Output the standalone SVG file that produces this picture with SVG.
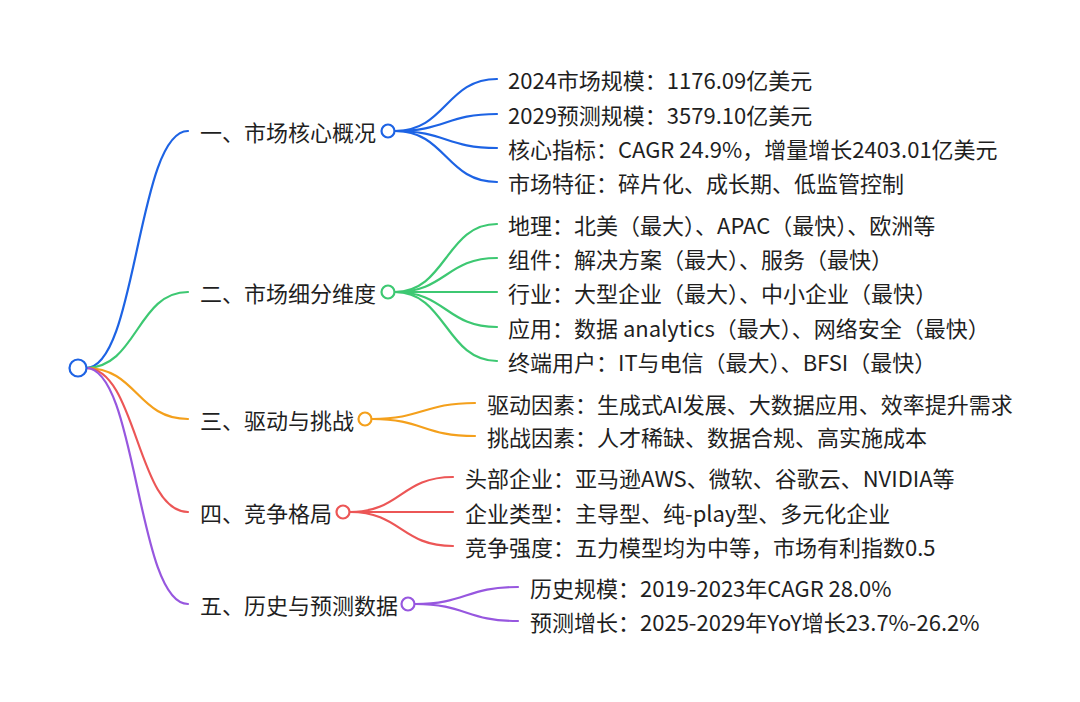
<svg xmlns="http://www.w3.org/2000/svg" width="1080" height="702" viewBox="0 0 1080 702">
<style>
text{font-family:"Noto Sans CJK SC","Noto Sans",sans-serif;font-size:22px;fill:#1f1f1f;dominant-baseline:central}
.c{fill:none;stroke-width:2.2;stroke-linecap:round}
.n{fill:#fff;stroke-width:2.2}
.b{stroke:#1d63e4}.g{stroke:#3dc872}.o{stroke:#f4a01c}.r{stroke:#ec5656}.p{stroke:#9757df}
</style>
<rect width="1080" height="702" fill="#fff"/>
<g id="connectors">
<path class="c b" d="M86,368 C137,368 137,131 188,131"/>
<path class="c g" d="M86,368 C137,368 137,292 188,292"/>
<path class="c o" d="M86,368 C137,368 137,419 188,419"/>
<path class="c r" d="M86,368 C137,368 137,512 188,512"/>
<path class="c p" d="M86,368 C137,368 137,604 188,604"/>
<path class="c b" d="M395,131 C446,131 446,79 497,79"/>
<path class="c b" d="M395,131 C446,131 446,114 497,114"/>
<path class="c b" d="M395,131 C446,131 446,148 497,148"/>
<path class="c b" d="M395,131 C446,131 446,182 497,182"/>
<path class="c g" d="M395,292 C446,292 446,224 497,224"/>
<path class="c g" d="M395,292 C446,292 446,258 497,258"/>
<path class="c g" d="M395,292 C446,292 446,292 497,292"/>
<path class="c g" d="M395,292 C446,292 446,327 497,327"/>
<path class="c g" d="M395,292 C446,292 446,361 497,361"/>
<path class="c o" d="M372,419 C423,419 423,403 475,403"/>
<path class="c o" d="M372,419 C423,419 423,436 475,436"/>
<path class="c r" d="M350,512 C401,512 401,477 453,477"/>
<path class="c r" d="M350,512 C401,512 401,512 453,512"/>
<path class="c r" d="M350,512 C401,512 401,546 453,546"/>
<path class="c p" d="M415,604 C466,604 466,587 518,587"/>
<path class="c p" d="M415,604 C466,604 466,621 518,621"/>
</g>
<g id="root"><circle class="n b" cx="78" cy="368" r="8.5" stroke-width="2.5"/></g>
<g id="n1"><text x="200" y="131">一、市场核心概况</text><circle class="n b" cx="388" cy="131" r="6.5"/></g>
<g id="n1a"><text x="508" y="79">2024市场规模：1176.09亿美元</text></g>
<g id="n1b"><text x="508" y="114">2029预测规模：3579.10亿美元</text></g>
<g id="n1c"><text x="508" y="148">核心指标：CAGR 24.9%，增量增长2403.01亿美元</text></g>
<g id="n1d"><text x="508" y="182">市场特征：碎片化、成长期、低监管控制</text></g>
<g id="n2"><text x="200" y="292">二、市场细分维度</text><circle class="n g" cx="388" cy="292" r="6.5"/></g>
<g id="n2a"><text x="508" y="224">地理：北美（最大）、APAC（最快）、欧洲等</text></g>
<g id="n2b"><text x="508" y="258">组件：解决方案（最大）、服务（最快）</text></g>
<g id="n2c"><text x="508" y="292">行业：大型企业（最大）、中小企业（最快）</text></g>
<g id="n2d"><text x="508" y="327">应用：数据 analytics（最大）、网络安全（最快）</text></g>
<g id="n2e"><text x="508" y="361">终端用户：IT与电信（最大）、BFSI（最快）</text></g>
<g id="n3"><text x="200" y="419">三、驱动与挑战</text><circle class="n o" cx="365" cy="419" r="6.5"/></g>
<g id="n3a"><text x="487" y="403">驱动因素：生成式AI发展、大数据应用、效率提升需求</text></g>
<g id="n3b"><text x="487" y="436">挑战因素：人才稀缺、数据合规、高实施成本</text></g>
<g id="n4"><text x="200" y="512">四、竞争格局</text><circle class="n r" cx="343" cy="512" r="6.5"/></g>
<g id="n4a"><text x="465" y="477">头部企业：亚马逊AWS、微软、谷歌云、NVIDIA等</text></g>
<g id="n4b"><text x="465" y="512">企业类型：主导型、纯-play型、多元化企业</text></g>
<g id="n4c"><text x="465" y="546">竞争强度：五力模型均为中等，市场有利指数0.5</text></g>
<g id="n5"><text x="200" y="604">五、历史与预测数据</text><circle class="n p" cx="408" cy="604" r="6.5"/></g>
<g id="n5a"><text x="530" y="587">历史规模：2019-2023年CAGR 28.0%</text></g>
<g id="n5b"><text x="530" y="621">预测增长：2025-2029年YoY增长23.7%-26.2%</text></g>
</svg>
